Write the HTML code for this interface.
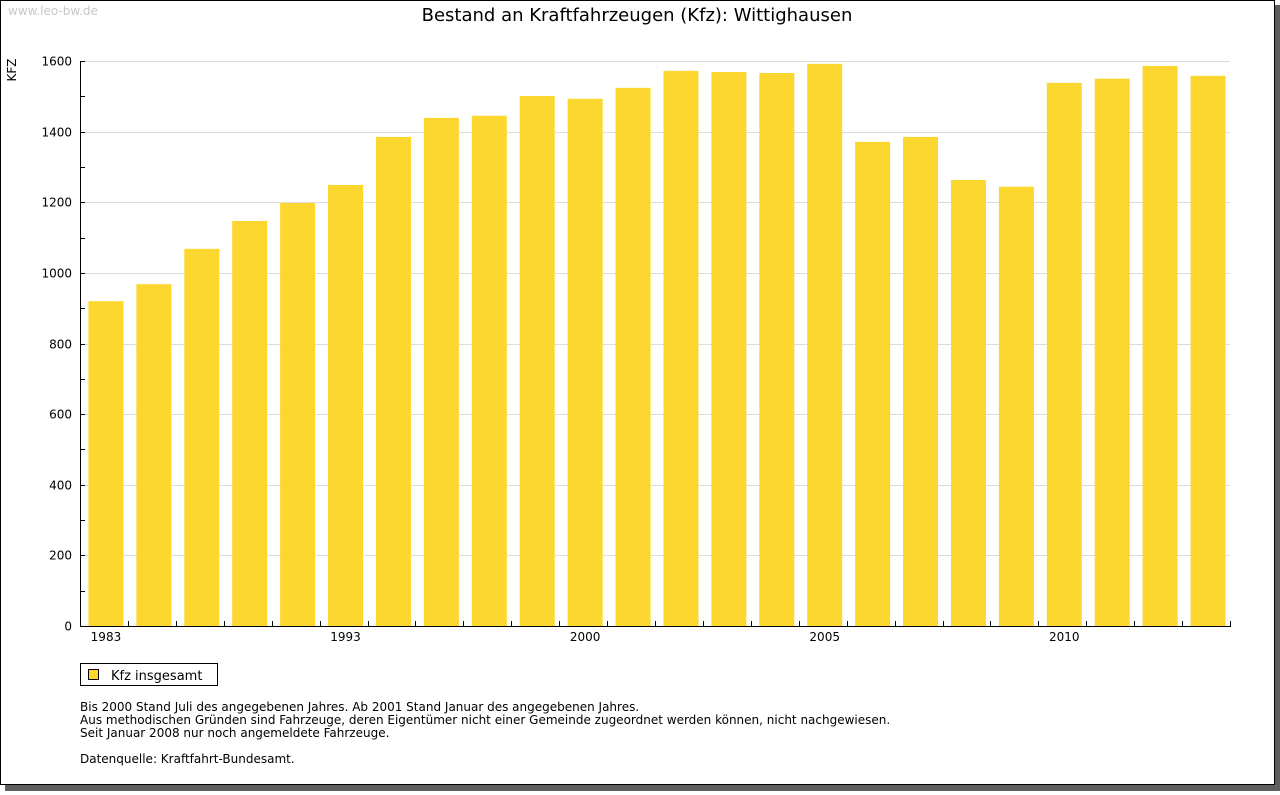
<!DOCTYPE html>
<html><head><meta charset="utf-8"><style>
body{margin:0;width:1280px;height:791px;background:#fff;overflow:hidden;font-family:"DejaVu Sans","Liberation Sans",sans-serif}
</style></head><body>
<svg width="1280" height="791" xmlns="http://www.w3.org/2000/svg">
<rect x="5" y="5" width="1275" height="786" fill="#5f5f5f"/>
<rect x="0.5" y="0.5" width="1274" height="784" fill="#fff" stroke="#000"/>
<text x="8" y="15" font-size="12" fill="#c8c8c8">www.leo-bw.de</text>
<text x="637" y="21" font-size="18" text-anchor="middle" fill="#000">Bestand an Kraftfahrzeugen (Kfz): Wittighausen</text>
<text transform="translate(16,70) rotate(-90)" font-size="12" text-anchor="middle">KFZ</text>
<g id="grid"></g><g id="bars"></g><g id="axes"></g>
<rect x="80.5" y="663.5" width="137" height="22" fill="#fff" stroke="#000"/>
<rect x="88.5" y="669.5" width="10" height="10" fill="#fcd730" stroke="#000"/>
<text x="111" y="680" font-size="13">Kfz insgesamt</text>
<g font-size="12">
<text x="80" y="711">Bis 2000 Stand Juli des angegebenen Jahres. Ab 2001 Stand Januar des angegebenen Jahres.</text>
<text x="80" y="724">Aus methodischen Gründen sind Fahrzeuge, deren Eigentümer nicht einer Gemeinde zugeordnet werden können, nicht nachgewiesen.</text>
<text x="80" y="737">Seit Januar 2008 nur noch angemeldete Fahrzeuge.</text>
<text x="80" y="763">Datenquelle: Kraftfahrt-Bundesamt.</text>
</g>
</svg>
<script>
const years=["1983","1985","1987","1989","1991","1993","1995","1997","1998","1999","2000","2001","2002","2003","2004","2005","2006","2007","2008","2009","2010","2011","2012","2013"];
const values=[920,968,1068,1147,1198,1249,1385,1439,1445,1501,1493,1524,1572,1569,1566,1592,1371,1385,1263,1244,1538,1550,1586,1558];
const yTicks=[0,200,400,600,800,1000,1200,1400,1600];
const xLabels=["1983","1993","2000","2005","2010"];
const NS="http://www.w3.org/2000/svg";
const x0=80,x1=1230,y0=626,yTop=61,yMax=1600;
const bw=(x1-x0)/years.length;
const ys=v=>y0-v/yMax*(y0-yTop);
function mk(t,a,p){const e=document.createElementNS(NS,t);for(const k in a)e.setAttribute(k,a[k]);p.appendChild(e);return e;}
const grid=document.getElementById('grid'),bars=document.getElementById('bars'),axes=document.getElementById('axes');
yTicks.forEach(v=>{const y=Math.round(ys(v))+0.5;
 if(v>0){const g=mk('line',{x1:x0,x2:x1,y1:y,y2:y,stroke:'#dcdcdc'},grid);
 
 }
 const t=mk('text',{x:72,y:y+4,'font-size':12,'text-anchor':'end'},axes);t.textContent=v;
 
 
});
for(let v=0;v<=yMax;v+=100){const y=Math.round(ys(v))+0.5;mk('line',{x1:x0,x2:x0+5,y1:y,y2:y,stroke:'#000'},axes);}
values.forEach((v,i)=>{const cx=x0+bw*(i+0.5)+2;const b=mk('rect',{x:cx-17.5,y:ys(v),width:35,height:y0-ys(v),fill:'#fcd730'},bars);
 
 
 if(xLabels.includes(years[i])){const t=mk('text',{x:cx,y:y0+15,'font-size':12,'text-anchor':'middle'},axes);t.textContent=years[i];
 
 }
});
for(let i=1;i<=years.length;i++){const x=Math.round(x0+bw*i)+0.5;mk('line',{x1:x,x2:x,y1:y0-5,y2:y0,stroke:'#000'},axes);}
const ya=mk('line',{x1:x0+0.5,x2:x0+0.5,y1:yTop,y2:y0+1,stroke:'#000'},axes);


const xa=mk('line',{x1:x0,x2:x1+1,y1:y0+0.5,y2:y0+0.5,stroke:'#000'},axes);


</script>
</body></html>
